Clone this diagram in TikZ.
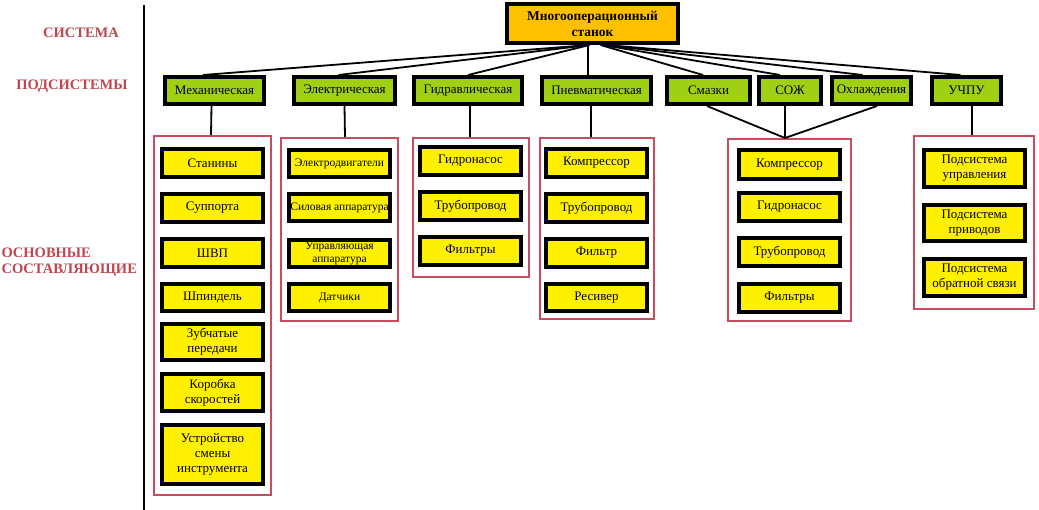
\documentclass[tikz,border=0pt]{standalone}
\usepackage{fontspec}
\setmainfont{Liberation Serif}
\definecolor{lblred}{RGB}{190,70,80}
\definecolor{grpred}{RGB}{200,75,95}
\definecolor{itemyellow}{RGB}{255,240,0}
\definecolor{subgreen}{RGB}{160,208,20}
\definecolor{toporange}{RGB}{255,192,0}
\begin{document}
\begin{tikzpicture}[x=1pt,y=-1pt,
  lbl/.style={text=lblred,font=\fontsize{14.5}{16.5}\selectfont\bfseries},
  topbox/.style={draw=black,line width=4pt,fill=toporange,align=center,inner sep=0pt,
     font=\fontsize{13.5}{16}\selectfont\bfseries},
  subbox/.style={draw=black,line width=4pt,fill=subgreen,align=center,inner sep=0pt,
     minimum height=27pt,font=\fontsize{13}{15}\selectfont},
  grp/.style={draw=grpred,line width=2pt,inner sep=0pt},
  item/.style={draw=black,line width=4pt,fill=itemyellow,align=center,inner sep=0pt,
     minimum width=101pt,font=\fontsize{13}{15}\selectfont},
  itemsm/.style={item,font=\fontsize{11.5}{13}\selectfont},
  conn/.style={draw=black,line width=1.8pt}
]
\useasboundingbox (0,0) rectangle (1039,510);

% level labels
\node[lbl] (lsys) at (81,33) {СИСТЕМА};
\node[lbl] (lsub) at (72,86) {ПОДСИСТЕМЫ};
\node[lbl,anchor=west,align=left] (lcomp) at (-2,262) {ОСНОВНЫЕ\\СОСТАВЛЯЮЩИЕ};
\draw[line width=2.5pt] (144,5) -- (144,510);

% top
\node[topbox,minimum width=171pt,minimum height=39pt] (top) at (592.5,23.5) {Многооперационный\\станок};

% subsystems
\node[subbox,minimum width=99pt] (mech) at (214.5,90.5) {Механическая};
\node[subbox,minimum width=101pt] (elec) at (344.5,90.5) {Электрическая};
\node[subbox,minimum width=108pt] (hydr) at (468,90.5) {Гидравлическая};
\node[subbox,minimum width=109pt] (pneu) at (596.5,90.5) {Пневматическая};
\node[subbox,minimum width=83pt] (lubr) at (708.5,90.5) {Смазки};
\node[subbox,minimum width=62pt] (soj) at (790,90.5) {СОЖ};
\node[subbox,minimum width=79pt] (cool) at (871.5,90.5) {Охлаждения};
\node[subbox,minimum width=69pt] (cnc) at (966.5,90.5) {УЧПУ};

% groups
\node[grp,minimum width=117pt,minimum height=359pt] (g1) at (212.5,315.5) {};
\node[grp,minimum width=117pt,minimum height=183pt] (g2) at (339.5,229.5) {};
\node[grp,minimum width=116pt,minimum height=139pt] (g3) at (471,207.5) {};
\node[grp,minimum width=114pt,minimum height=181pt] (g4) at (597,228.5) {};
\node[grp,minimum width=123pt,minimum height=182pt] (g5) at (789.5,230) {};
\node[grp,minimum width=120pt,minimum height=173pt] (g6) at (974,222.5) {};

% group 1
\node[item,minimum height=28pt] (a1) at (212.5,163) {Станины};
\node[item,minimum height=28pt] (a2) at (212.5,208) {Суппорта};
\node[item,minimum height=28pt] (a3) at (212.5,253) {ШВП};
\node[item,minimum height=27pt] (a4) at (212.5,297.5) {Шпиндель};
\node[item,minimum height=36pt] (a5) at (212.5,342) {Зубчатые\\передачи};
\node[item,minimum height=37pt] (a6) at (212.5,392.5) {Коробка\\скоростей};
\node[item,minimum height=59pt] (a7) at (212.5,454.5) {Устройство\\смены\\инструмента};

% group 2
\node[itemsm,minimum height=27pt] (b1) at (339.5,163.5) {Электродвигатели};
\node[itemsm,minimum height=27pt] (b2) at (339.5,207.5) {Силовая аппаратура};
\node[itemsm,minimum height=27pt] (b3) at (339.5,253.5) {Управляющая\\аппаратура};
\node[itemsm,minimum height=27pt] (b4) at (339.5,297.5) {Датчики};

% group 3
\node[item,minimum height=28pt] (c1) at (470.5,161) {Гидронасос};
\node[item,minimum height=28pt] (c2) at (470.5,206) {Трубопровод};
\node[item,minimum height=28pt] (c3) at (470.5,251) {Фильтры};

% group 4
\node[item,minimum height=28pt] (d1) at (596.5,163) {Компрессор};
\node[item,minimum height=28pt] (d2) at (596.5,208) {Трубопровод};
\node[item,minimum height=28pt] (d3) at (596.5,253) {Фильтр};
\node[item,minimum height=27pt] (d4) at (596.5,297.5) {Ресивер};

% group 5
\node[item,minimum height=29pt] (e1) at (789.5,164.5) {Компрессор};
\node[item,minimum height=28pt] (e2) at (789.5,207) {Гидронасос};
\node[item,minimum height=28pt] (e3) at (789.5,252) {Трубопровод};
\node[item,minimum height=28pt] (e4) at (789.5,298) {Фильтры};

% group 6
\node[item,minimum height=37pt] (f1) at (974.5,168.5) {Подсистема\\управления};
\node[item,minimum height=36pt] (f2) at (974.5,223) {Подсистема\\приводов};
\node[item,minimum height=37pt] (f3) at (974.5,277.5) {Подсистема\\обратной связи};

% top connectors
\draw[conn] ([xshift=-3pt]top.south) -- ([xshift=-11.5pt]mech.north);
\draw[conn] ([xshift=-3pt]top.south) -- ([xshift=-6pt]elec.north);
\draw[conn] ([xshift=-3pt]top.south) -- (hydr.north);
\draw[conn] ([xshift=-4.5pt]top.south) -- ([xshift=-8.5pt]pneu.north);
\draw[conn] ([xshift=8pt]top.south) -- ([xshift=-5.5pt]lubr.north);
\draw[conn] ([xshift=10pt]top.south) -- ([xshift=-10pt]soj.north);
\draw[conn] ([xshift=12pt]top.south) -- ([xshift=-9pt]cool.north);
\draw[conn] ([xshift=14pt]top.south) -- ([xshift=-6pt]cnc.north);

% lower connectors
\draw[conn] ([xshift=-3pt]mech.south) -- ([xshift=-1.5pt]g1.north);
\draw[conn] (elec.south) -- ([xshift=5.5pt]g2.north);
\draw[conn] ([xshift=2pt]hydr.south) -- ([xshift=-1pt]g3.north);
\draw[conn] ([xshift=-5.5pt]pneu.south) -- ([xshift=-6pt]g4.north);
\coordinate (lm) at ([xshift=-4.5pt]g5.north);
\draw[conn] ([xshift=-1.5pt]lubr.south) -- (lm);
\draw[conn] ([xshift=-5pt]soj.south) -- (lm);
\draw[conn] ([xshift=5.5pt]cool.south) -- (lm);
\draw[conn] ([xshift=5.5pt]cnc.south) -- ([xshift=-2pt]g6.north);
\end{tikzpicture}
\end{document}
